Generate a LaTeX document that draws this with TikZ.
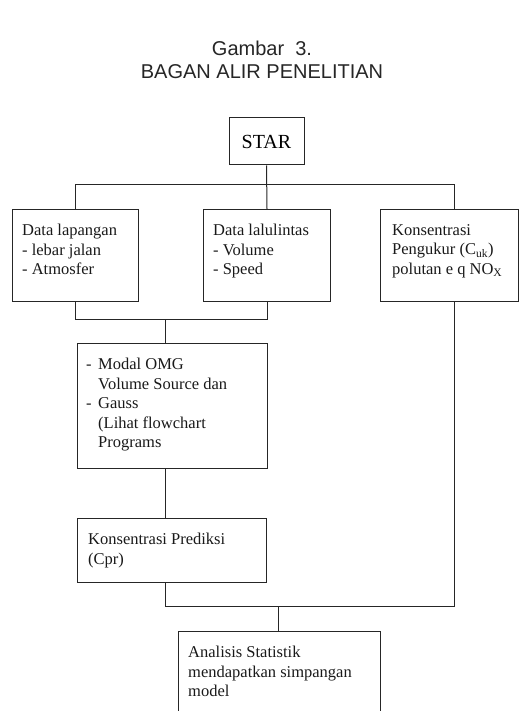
\documentclass[tikz,border=0pt]{standalone}
\usepackage{fontspec}
\setmainfont{Liberation Serif}
\newfontfamily\titlefont{Liberation Sans}
\newcommand{\dsh}{\makebox[12pt][l]{-}}
\newcommand{\ind}{\hspace*{12pt}}
\begin{document}
\begin{tikzpicture}[x=1pt,y=-1pt,
  line/.style={line width=1pt, draw=black!85},
  box/.style={line, rectangle, inner sep=0pt, anchor=north west},
  txt/.style={anchor=north west, inner sep=0pt, align=left,
    font=\fontsize{16.5}{19.5}\selectfont, text=black!90},
  ttl/.style={font=\titlefont\fontsize{20}{24}\selectfont, text=black!85, inner sep=0pt}
]
\useasboundingbox (0,0) rectangle (519,711);
% title
\node[ttl] (t1) at (262,48) {Gambar\ \ 3.};
\node[ttl] (t2) at (262,72) {BAGAN ALIR PENELITIAN};
% boxes
\node[line, rectangle, inner sep=0pt, minimum width=75pt, minimum height=47pt,
  font=\fontsize{20}{24}\selectfont] (star) at (266.5,141.5) {STAR};
\node[box, minimum width=126pt, minimum height=92pt] (lap) at (12,209) {};
\node[box, minimum width=127pt, minimum height=92pt] (lal) at (203,209) {};
\node[box, minimum width=138pt, minimum height=92pt] (kon) at (380,209) {};
\node[box, minimum width=190pt, minimum height=125pt] (mod) at (77,343) {};
\node[box, minimum width=189pt, minimum height=64pt] (pre) at (77,518) {};
\node[box, minimum width=202pt, minimum height=100pt] (ana) at (178,631) {};
% texts
\node[txt] (lapT) at (22,224) {Data lapangan\\- lebar jalan\\- Atmosfer};
\node[txt] (lalT) at (213,224) {Data lalulintas\\- Volume\\- Speed};
\node[txt] (konT) at (392,224) {Konsentrasi\\Pengukur (C\textsubscript{uk})\\polutan e q NO\textsubscript{X}};
\node[txt] (modT) at (86,358) {\dsh Modal OMG\\\ind Volume Source dan\\\dsh Gauss\\\ind(Lihat flowchart\\\ind Programs};
\node[txt] (preT) at (88,533) {Konsentrasi Prediksi\\(Cpr)};
\node[txt] (anaT) at (188,646) {Analisis Statistik\\mendapatkan simpangan\\model};
% junction coordinates
\coordinate (jL) at (75,185);
\coordinate (jR) at (454,185);
\coordinate (j2) at (165,319);
\coordinate (j3) at (278,606);
% connectors
\draw[line] (star.south) -- (lal.north);
\draw[line] (lap.north) -- (lap.north |- jL) -- (jR) -- (jR |- kon.north);
\draw[line] (lap.south) -- (lap.south |- j2) -- (lal.south |- j2) -- (lal.south);
\draw[line] (j2) -- (j2 |- mod.north);
\draw[line] (j2 |- mod.south) -- (j2 |- pre.north);
\draw[line] (j2 |- pre.south) -- (j2 |- j3) -- (jR |- j3) -- (jR |- kon.south);
\draw[line] (j3) -- (j3 |- ana.north);
\end{tikzpicture}
\end{document}
